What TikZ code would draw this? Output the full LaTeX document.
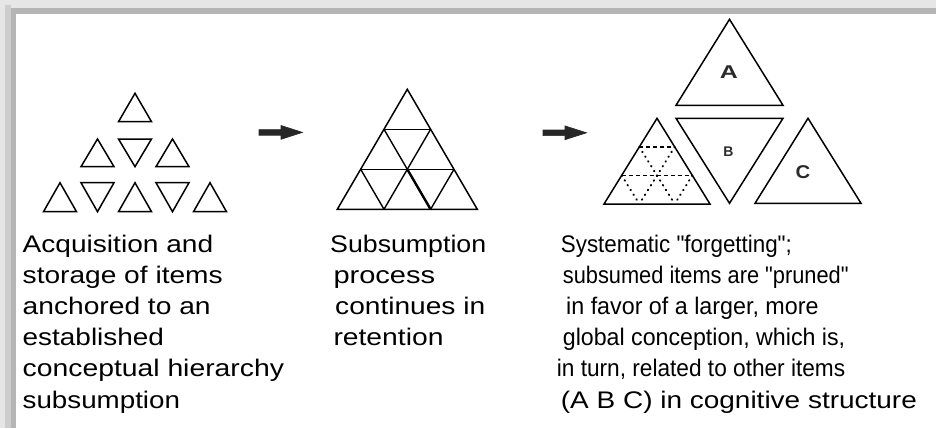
\documentclass[tikz,border=0pt]{standalone}
\usepackage{fontspec}
\usepackage{graphicx}
\setmainfont{Liberation Sans}
% caption face without TeX ligature mapping, so " stays a straight quote
\newfontfamily\capfont{Liberation Sans}
\newfontfamily\letterfont{Liberation Sans Bold}
% stretch a line of text to a given width, keeping its height
\newcommand{\fitline}[2]{\resizebox{#1pt}{\height}{#2}}
% triangle: centre x, tip y, half width, base y
\newcommand{\tri}[4]{\draw[tri] (#1,#2) -- (#1-#3,#4) -- (#1+#3,#4) -- cycle;}
\definecolor{frameA}{HTML}{E6E6E6}
\definecolor{frameB}{HTML}{CDCDCD}
\definecolor{frameC}{HTML}{B5B5B5}
\definecolor{lettergray}{HTML}{2A2A2A}
\begin{document}
\begin{tikzpicture}[x=1pt,y=-1pt,
  tri/.style={draw=black,line width=1.5pt,line join=miter},
  grid/.style={draw=black,line width=1.4pt},
  dashgrid/.style={draw=black,line width=1.4pt,dash pattern=on 4pt off 3pt},
  dotgrid/.style={draw=black,line width=2pt,line cap=round,dash pattern=on 0.6pt off 5pt},
  fatarrow/.style={fill=black!85,draw=black!85,line width=0.6pt,line join=miter},
  caption/.style={anchor=base west,inner sep=0pt,font=\capfont\fontsize{24}{31}\selectfont},
  letter/.style={text=lettergray,inner sep=0pt}]
\useasboundingbox (0,0) rectangle (936,428);
\fill[white] (0,0) rectangle (936,428);
% frame shading along top and left edges
\fill[frameA] (0,0) rectangle (936,8);
\fill[frameA] (0,0) rectangle (5,428);
\fill[frameB] (5,5) rectangle (11,428);
\fill[frameC] (11,8) rectangle (936,14);
\fill[frameC] (11,8) rectangle (16,428);

% --- stage 1: separate items ---
\tri{135}{93.3}{16.5}{121.7}
\tri{97.5}{139}{16.5}{166.7}
\tri{135}{166.7}{16.5}{139}
\tri{172.5}{139}{16.5}{166.7}
\tri{60}{182.7}{16.5}{211.7}
\tri{97.5}{211.7}{16.5}{182.7}
\tri{135}{182.7}{16.5}{211.7}
\tri{172.5}{211.7}{16.5}{182.7}
\tri{210}{182.7}{16.5}{211.7}

% arrow 1
\filldraw[fatarrow] (259,129.6) -- (281,129.6) -- (281,125.5) -- (302.5,132.4)
  -- (281,139.3) -- (281,135.2) -- (259,135.2) -- cycle;

% --- stage 2: subsumed hierarchy ---
\tri{407.3}{89.3}{70}{209.3}
\draw[grid] (384,129.3) -- (430.6,129.3);
\draw[grid] (360.7,169.3) -- (454,169.3);
\draw[grid] (430.6,129.3) -- (384,209.3);
\draw[grid] (454,169.3) -- (430.6,209.3);
\draw[grid] (384,129.3) -- (430.6,209.3);
\draw[grid] (360.7,169.3) -- (384,209.3);
\draw[line width=2.4pt] (407.3,169.3) -- (430.6,209.3);

% arrow 2
\filldraw[fatarrow] (543,130) -- (565,130) -- (565,125.9) -- (586.5,132.8)
  -- (565,139.7) -- (565,135.6) -- (543,135.6) -- cycle;

% --- stage 3: pruned items and related concepts ---
\tri{657}{118.3}{53}{204}
\draw[dashgrid] (639.3,146.9) -- (674.7,146.9);
\draw[dashgrid] (621.7,175.4) -- (692.3,175.4);
\draw[dotgrid] (674.7,146.9) -- (639.3,204);
\draw[dotgrid] (692.3,175.4) -- (674.7,204);
\draw[dotgrid] (639.3,146.9) -- (674.7,204);
\draw[dotgrid] (621.7,175.4) -- (639.3,204);

\tri{729.5}{19.3}{53.5}{105.3}
\tri{729.5}{203.3}{53.5}{118.3}
\tri{808}{118.3}{53}{203.3}
\node[letter,font=\letterfont\fontsize{18.5}{18.5}\selectfont] (la) at (729,72) {\scalebox{1.35}[1]{A}};
\node[letter,font=\letterfont\fontsize{14}{14}\selectfont] (lb) at (728.5,151.7) {B};
\node[letter,font=\letterfont\fontsize{18.5}{18.5}\selectfont] (lc) at (803,171.7) {\scalebox{1.1}[1]{C}};

% --- captions ---
\node[caption] (c1a) at (22.5,252) {\fitline{190.5}{Acquisition and}};
\node[caption] (c1b) at (22.5,283.2) {\fitline{200}{storage of items}};
\node[caption] (c1c) at (22.5,314.4) {\fitline{188}{anchored to an}};
\node[caption] (c1d) at (22.5,345.6) {\fitline{141.3}{established}};
\node[caption] (c1e) at (22.5,376.8) {\fitline{261.3}{conceptual hierarchy}};
\node[caption] (c1f) at (22.5,408) {\fitline{157.3}{subsumption}};

\node[caption] (c2a) at (330,252) {\fitline{156}{Subsumption}};
\node[caption] (c2b) at (333.3,283.2) {\fitline{101.7}{process}};
\node[caption] (c2c) at (335,314.4) {\fitline{150}{continues in}};
\node[caption] (c2d) at (333.3,345.6) {\fitline{110}{retention}};

\node[caption] (c3a) at (560.7,252) {\fitline{231}{Systematic "forgetting";}};
\node[caption] (c3b) at (562.7,283.2) {\fitline{285.7}{subsumed items are "pruned"}};
\node[caption] (c3c) at (566,314.4) {\fitline{252.3}{in favor of a larger, more}};
\node[caption] (c3d) at (562.7,345.6) {\fitline{282.3}{global conception, which is,}};
\node[caption] (c3e) at (556.7,376.8) {\fitline{288.3}{in turn, related to other items}};
\node[caption] (c3f) at (560.7,408) {\fitline{356}{(A B C) in cognitive structure}};
\end{tikzpicture}
\end{document}
